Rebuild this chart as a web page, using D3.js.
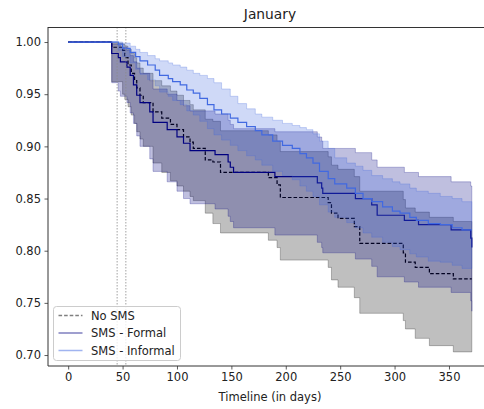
<!DOCTYPE html>
<html>
<head>
<meta charset="utf-8">
<script src="https://cdn.jsdelivr.net/npm/d3@7"></script>
<style>
  body { margin: 0; background: #fff; }
  text { font-family: "DejaVu Sans", sans-serif; fill: #222; }
</style>
</head>
<body>
<script>
// survival curves, one set of arrays per group
var noSmsDays  = [0,40,50,52,55,58,61,63,66,69,78,86,94,100,106,112,115,126,133,140,184,192,195,239,242,248,263,268,308,310,319,332,354,371];
var noSmsSurv  = [1.0,0.995,0.992,0.985,0.978,0.970,0.963,0.956,0.949,0.942,0.933,0.927,0.921,0.916,0.909,0.904,0.898,0.887,0.885,0.875,0.870,0.863,0.851,0.846,0.836,0.831,0.823,0.807,0.798,0.789,0.784,0.778,0.773,0.773];
var noSmsLower = [1.0,0.962,0.950,0.945,0.938,0.930,0.922,0.914,0.907,0.900,0.884,0.875,0.867,0.862,0.857,0.852,0.848,0.836,0.826,0.817,0.810,0.803,0.791,0.784,0.772,0.765,0.755,0.740,0.733,0.725,0.716,0.709,0.703,0.703];
var noSmsUpper = [1.0,0.999,0.998,0.996,0.993,0.989,0.985,0.980,0.975,0.970,0.963,0.958,0.953,0.949,0.944,0.940,0.935,0.926,0.924,0.915,0.911,0.905,0.895,0.890,0.882,0.878,0.871,0.857,0.849,0.841,0.837,0.832,0.828,0.828];

var formalDays  = [0,40,46,48,54,57,60,63,66,75,78,91,100,106,112,135,147,149,152,190,229,233,234,264,279,284,309,322,352,370,371];
var formalSurv  = [1.0,0.989,0.985,0.981,0.976,0.968,0.959,0.949,0.942,0.933,0.923,0.916,0.909,0.903,0.896,0.892,0.885,0.880,0.875,0.871,0.865,0.860,0.855,0.850,0.844,0.834,0.829,0.825,0.820,0.812,0.803];
var formalLower = [1.0,0.961,0.953,0.948,0.942,0.932,0.922,0.910,0.900,0.888,0.876,0.866,0.857,0.850,0.845,0.840,0.833,0.828,0.822,0.815,0.808,0.803,0.798,0.792,0.785,0.775,0.770,0.765,0.760,0.752,0.742];
var formalUpper = [1.0,0.998,0.997,0.995,0.992,0.987,0.981,0.975,0.970,0.963,0.955,0.950,0.944,0.939,0.934,0.931,0.925,0.921,0.917,0.914,0.909,0.905,0.898,0.894,0.887,0.880,0.875,0.871,0.866,0.862,0.858];

var informalDays  = [0,46,50,57,62,66,73,80,84,92,96,103,109,115,121,128,134,141,149,156,164,172,178,188,197,206,213,219,225,231,239,245,256,264,271,279,289,298,305,314,320,331,342,353,362,371];
var informalSurv  = [1.0,0.998,0.994,0.990,0.986,0.982,0.978,0.973,0.968,0.965,0.962,0.959,0.954,0.951,0.946,0.940,0.935,0.931,0.927,0.923,0.919,0.915,0.911,0.905,0.901,0.898,0.893,0.889,0.884,0.876,0.869,0.864,0.860,0.855,0.850,0.847,0.842,0.838,0.836,0.832,0.829,0.826,0.825,0.822,0.820,0.820];
var informalLower = [1.0,0.992,0.986,0.980,0.974,0.969,0.964,0.958,0.952,0.948,0.944,0.940,0.934,0.930,0.924,0.917,0.911,0.906,0.901,0.896,0.891,0.887,0.882,0.876,0.872,0.868,0.862,0.857,0.852,0.844,0.837,0.832,0.827,0.822,0.817,0.813,0.808,0.804,0.801,0.797,0.794,0.790,0.789,0.786,0.783,0.783];
var informalUpper = [1.0,1.0,0.999,0.996,0.993,0.990,0.987,0.984,0.982,0.980,0.978,0.976,0.973,0.970,0.968,0.965,0.961,0.955,0.948,0.941,0.936,0.931,0.928,0.925,0.922,0.920,0.918,0.916,0.912,0.905,0.898,0.889,0.884,0.881,0.877,0.872,0.869,0.866,0.864,0.860,0.857,0.855,0.852,0.850,0.847,0.847];

var labels = ['No SMS', 'SMS - Formal', 'SMS - Informal'];
var xTicks = [0, 50, 100, 150, 200, 250, 300, 350];
var yTicks = [0.70, 0.75, 0.80, 0.85, 0.90, 0.95, 1.00];
var markerDays = [45, 53];

var W = 484, H = 409;
var pLeft = 48, pRight = 492, pTop = 27, pBottom = 366;

var x = d3.scaleLinear().domain([-18.55, 389.55]).range([pLeft, pRight]);
var y = d3.scaleLinear().domain([0.6895, 1.0144]).range([pBottom, pTop]);

var groups = [
  { name: labels[0], days: noSmsDays, s: noSmsSurv, lo: noSmsLower, hi: noSmsUpper, color: '#000000', dash: '3.6,2' },
  { name: labels[1], days: formalDays, s: formalSurv, lo: formalLower, hi: formalUpper, color: '#000080', dash: null },
  { name: labels[2], days: informalDays, s: informalSurv, lo: informalLower, hi: informalUpper, color: '#4169e1', dash: null }
];

var svg = d3.select('body').append('svg')
  .attr('width', W).attr('height', H);

svg.append('defs').append('clipPath').attr('id', 'plot')
  .append('rect').attr('x', pLeft).attr('y', pTop)
  .attr('width', pRight - pLeft).attr('height', pBottom - pTop);

var plot = svg.append('g').attr('clip-path', 'url(#plot)');

var area = d3.area()
  .curve(d3.curveStepAfter)
  .x(function (d) { return x(d.t); })
  .y0(function (d) { return y(d.lo); })
  .y1(function (d) { return y(d.hi); });

var line = d3.line()
  .curve(d3.curveStepAfter)
  .x(function (d) { return x(d.t); })
  .y(function (d) { return y(d.s); });

groups.forEach(function (g) {
  var rows = g.days.map(function (t, i) {
    return { t: t, s: g.s[i], lo: g.lo[i], hi: g.hi[i] };
  });
  plot.append('path')
    .attr('d', area(rows))
    .attr('fill', g.color).attr('fill-opacity', 0.25)
    .attr('stroke', g.color).attr('stroke-opacity', 0.25)
    .attr('stroke-width', 1);
  plot.append('path')
    .attr('d', line(rows))
    .attr('fill', 'none')
    .attr('stroke', g.color)
    .attr('stroke-width', 1.2)
    .attr('stroke-dasharray', g.dash);
});

// dotted markers
plot.selectAll('.marker').data(markerDays).enter().append('line')
  .attr('x1', function (d) { return x(d); }).attr('x2', function (d) { return x(d); })
  .attr('y1', pTop).attr('y2', pBottom)
  .attr('stroke', '#8a8a8a').attr('stroke-width', 0.8)
  .attr('stroke-dasharray', '1.5,1.5');

// axes
var xAxis = d3.axisBottom(x).tickValues(xTicks).tickSize(3.5).tickPadding(3.5)
  .tickFormat(d3.format('d'));
var gx = svg.append('g').attr('transform', 'translate(0,' + pBottom + ')').call(xAxis);
var yAxis = d3.axisLeft(y).tickValues(yTicks).tickSize(3.5).tickPadding(3.5)
  .tickFormat(d3.format('.2f'));
var gy = svg.append('g').attr('transform', 'translate(' + pLeft + ',0)').call(yAxis);

[gx, gy].forEach(function (g) {
  g.select('.domain').remove();
  g.selectAll('.tick line').attr('stroke', '#333').attr('stroke-width', 0.8);
  g.selectAll('.tick text').style('font-size', '11.5px').attr('fill', '#222');
});

// spines
svg.append('line').attr('x1', pLeft).attr('x2', pRight).attr('y1', pTop + 0.5).attr('y2', pTop + 0.5)
  .attr('stroke', '#333').attr('stroke-width', 1);
svg.append('line').attr('x1', pLeft).attr('x2', pRight).attr('y1', pBottom).attr('y2', pBottom)
  .attr('stroke', '#333').attr('stroke-width', 1);
svg.append('line').attr('x1', pLeft).attr('x2', pLeft).attr('y1', pTop).attr('y2', pBottom)
  .attr('stroke', '#333').attr('stroke-width', 1);
svg.append('line').attr('x1', pRight).attr('x2', pRight).attr('y1', pTop).attr('y2', pBottom)
  .attr('stroke', '#333').attr('stroke-width', 1);

svg.append('text').attr('x', (pLeft + pRight) / 2).attr('y', 19)
  .attr('text-anchor', 'middle').style('font-size', '13.8px').text('January');

svg.append('text').attr('x', (pLeft + pRight) / 2).attr('y', 401)
  .attr('text-anchor', 'middle').style('font-size', '11.5px').text('Timeline (in days)');

// legend
var leg = svg.append('g').attr('transform', 'translate(53.5,306.5)');
leg.append('rect').attr('width', 127).attr('height', 54).attr('rx', 3)
  .attr('fill', '#fff').attr('fill-opacity', 0.8)
  .attr('stroke', '#cccccc').attr('stroke-width', 1);
groups.forEach(function (g, i) {
  var yy = 9 + i * 17.5;
  leg.append('line').attr('x1', 5).attr('x2', 29).attr('y1', yy).attr('y2', yy)
    .attr('stroke', g.color).attr('stroke-opacity', 0.5)
    .attr('stroke-width', 1.5).attr('stroke-dasharray', g.dash);
  leg.append('text').attr('x', 37.5).attr('y', yy).attr('dy', '0.36em')
    .style('font-size', '11.5px').text(g.name);
});
</script>
</body>
</html>
